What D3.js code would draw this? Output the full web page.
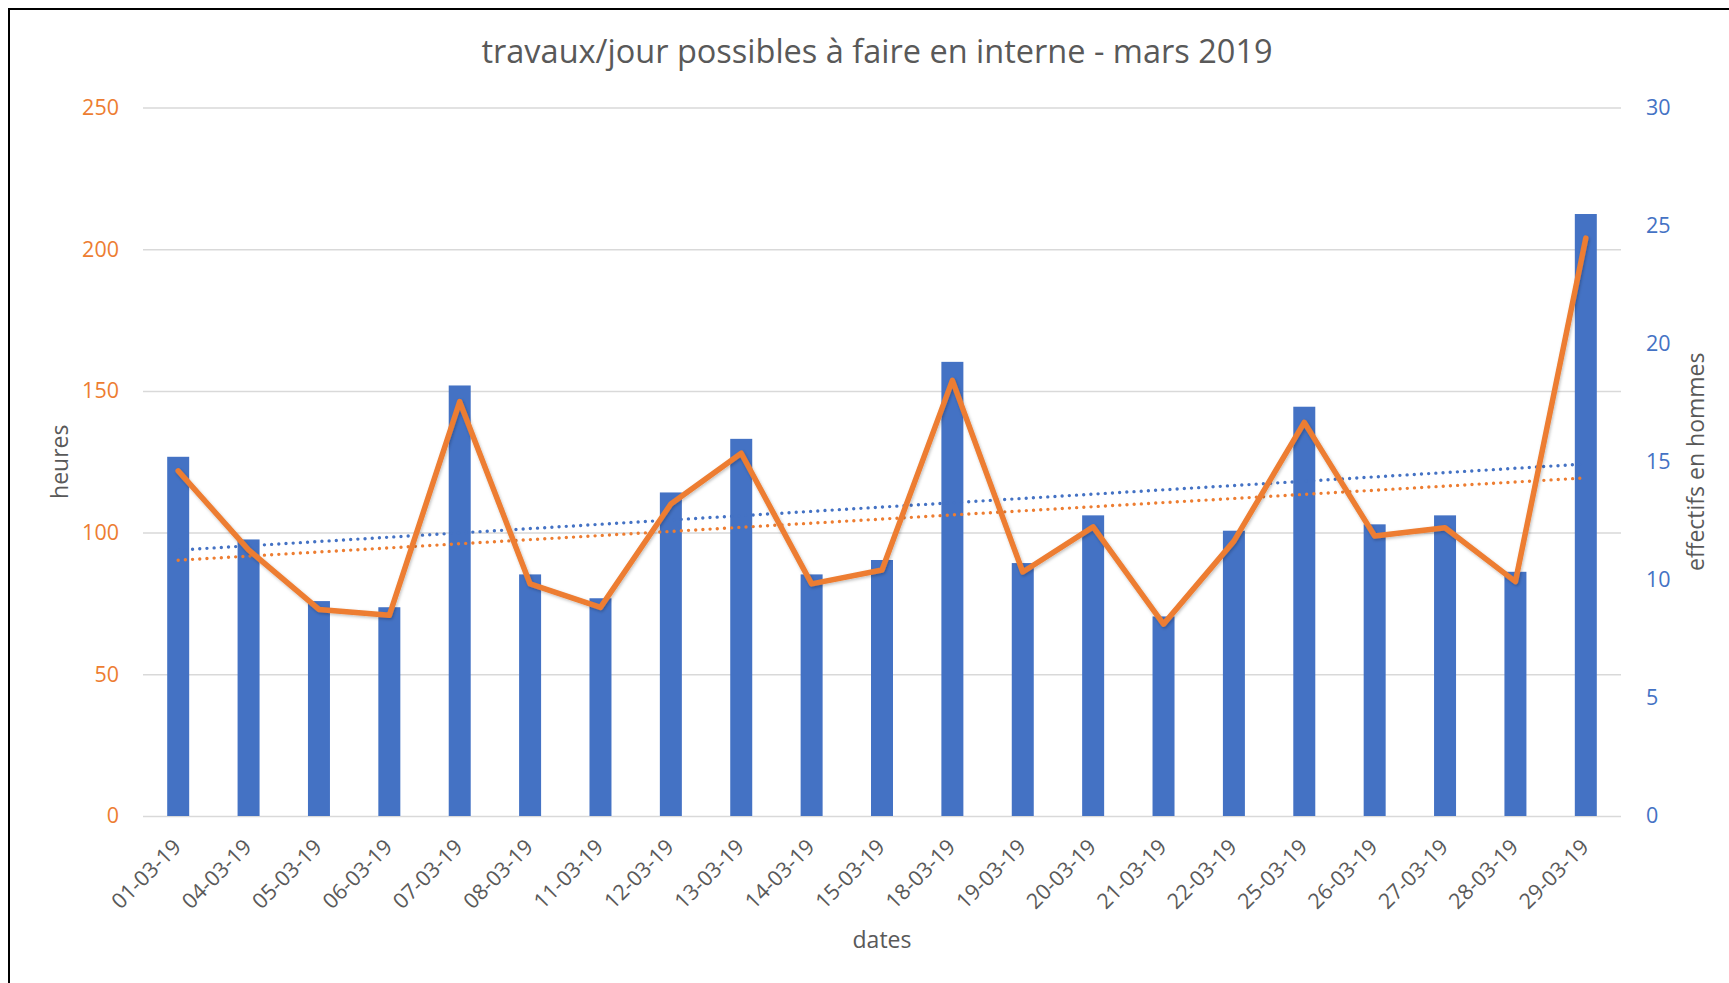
<!DOCTYPE html>
<html>
<head>
<meta charset="utf-8">
<script src="https://cdn.jsdelivr.net/npm/d3@7"></script>
<style>
  body { margin: 0; background: #fff; }
  svg { display: block; }
  text { font-family: "Open Sans", sans-serif; }
</style>
</head>
<body>
<div id="chart"></div>
<script>
// categories
const dates = ["01-03-19", "04-03-19", "05-03-19", "06-03-19", "07-03-19", "08-03-19", "11-03-19",
  "12-03-19", "13-03-19", "14-03-19", "15-03-19", "18-03-19", "19-03-19", "20-03-19", "21-03-19",
  "22-03-19", "25-03-19", "26-03-19", "27-03-19", "28-03-19", "29-03-19"];

// bars, right axis (effectifs en hommes)
const effectifs = [15.21, 11.71, 9.10, 8.84, 18.23, 10.23, 9.22, 13.70, 15.97, 10.23, 10.84,
  19.23, 10.71, 12.73, 8.45, 12.08, 17.33, 12.35, 12.73, 10.34, 25.49];

// line, left axis (heures)
const heures = [121.8, 93.9, 72.9, 70.8, 146.2, 81.9, 73.6, 110.1, 128.0, 81.9, 86.8,
  153.7, 86.1, 102.0, 67.7, 97.0, 138.9, 98.8, 101.7, 82.7, 203.9];

const heuresTicks = [0, 50, 100, 150, 200, 250];
const effectifsTicks = [0, 5, 10, 15, 20, 25, 30];

const W = 1729, H = 983;
const plot = { left: 143, right: 1621, top: 107.5, bottom: 816 };
const ORANGE = "#ED7D31", BLUE = "#4472C4", GREY = "#595959", GRID = "#D9D9D9";

const svg = d3.select("#chart").append("svg")
  .attr("width", W)
  .attr("height", H)
  .style("background", "#fff");

const defs = svg.append("defs");
const sh = defs.append("filter").attr("id", "lineShadow")
  .attr("x", "-5%").attr("y", "-5%").attr("width", "110%").attr("height", "110%");
sh.append("feDropShadow").attr("dx", 1).attr("dy", 1.5).attr("stdDeviation", 1.5)
  .attr("flood-color", "#000").attr("flood-opacity", 0.25);

// frame (only top and left edges are inside the picture)
svg.append("rect")
  .attr("x", 9).attr("y", 9)
  .attr("width", W + 40).attr("height", H + 40)
  .attr("fill", "none").attr("stroke", "#000").attr("stroke-width", 2);

const x = d3.scaleBand().domain(dates)
  .range([plot.left, plot.right])
  .paddingInner(0.6875)
  .paddingOuter(0.34375);

const yL = d3.scaleLinear().domain([0, 250]).range([plot.bottom, plot.top]);
const yR = d3.scaleLinear().domain([0, 30]).range([plot.bottom, plot.top]);

// gridlines
const grid = svg.append("g")
  .attr("transform", `translate(${plot.left},0)`)
  .call(d3.axisLeft(yL).tickValues(heuresTicks).tickSize(-(plot.right - plot.left)).tickFormat(""));
grid.select(".domain").remove();
grid.selectAll("line").attr("stroke", GRID).attr("stroke-width", 1.5);

// left axis labels
const axL = svg.append("g")
  .attr("transform", `translate(${plot.left},0)`)
  .call(d3.axisLeft(yL).tickValues(heuresTicks).tickSize(0).tickPadding(24));
axL.select(".domain").remove();
axL.selectAll("text").attr("fill", ORANGE).style("font-size", "21.5px")
  .style("font-family", "'Open Sans', sans-serif");

// right axis labels
const axR = svg.append("g")
  .attr("transform", `translate(${plot.right},0)`)
  .call(d3.axisRight(yR).tickValues(effectifsTicks).tickSize(0).tickPadding(25));
axR.select(".domain").remove();
axR.selectAll("text").attr("fill", BLUE).style("font-size", "21.5px")
  .style("font-family", "'Open Sans', sans-serif");

// x axis labels
const axX = svg.append("g")
  .attr("transform", `translate(0,${plot.bottom})`)
  .call(d3.axisBottom(x).tickSize(0));
axX.select(".domain").remove();
axX.selectAll("text")
  .attr("x", 0).attr("y", 0).attr("dy", "0.35em")
  .attr("transform", "translate(-1,27) rotate(-45)")
  .attr("text-anchor", "end")
  .attr("fill", GREY)
  .style("font-size", "21.5px")
  .style("font-family", "'Open Sans', sans-serif");

// bars
svg.append("g").selectAll("rect").data(dates).enter().append("rect")
  .attr("x", d => x(d))
  .attr("width", x.bandwidth())
  .attr("y", (d, i) => yR(effectifs[i]))
  .attr("height", (d, i) => plot.bottom - yR(effectifs[i]))
  .attr("fill", BLUE);

// linear trendlines (least squares, like the spreadsheet)
function linFit(vals) {
  const n = vals.length;
  const mx = d3.mean(vals, (v, i) => i);
  const my = d3.mean(vals);
  let sxy = 0, sxx = 0;
  vals.forEach((v, i) => { sxy += (i - mx) * (v - my); sxx += (i - mx) * (i - mx); });
  const b = sxy / sxx;
  return [my - b * mx, my + b * (n - 1 - mx)];
}
const cx = d => x(d) + x.bandwidth() / 2;
const trends = [
  { vals: effectifs, scale: yR, color: BLUE },
  { vals: heures, scale: yL, color: ORANGE }
];
trends.forEach(t => {
  const [a, b] = linFit(t.vals);
  svg.append("line")
    .attr("x1", cx(dates[0])).attr("y1", t.scale(a))
    .attr("x2", cx(dates[dates.length - 1])).attr("y2", t.scale(b))
    .attr("stroke", t.color).attr("stroke-width", 3.4)
    .attr("stroke-linecap", "round")
    .attr("stroke-dasharray", "0 7.2");
});

// line
svg.append("path")
  .datum(heures)
  .attr("d", d3.line().x((d, i) => cx(dates[i])).y(d => yL(d)))
  .attr("fill", "none")
  .attr("stroke", ORANGE)
  .attr("stroke-width", 5.5)
  .attr("stroke-linejoin", "round")
  .attr("stroke-linecap", "round")
  .attr("filter", "url(#lineShadow)");

// titles
svg.append("text")
  .attr("x", (plot.left + plot.right) / 2 - 5).attr("y", 63)
  .attr("text-anchor", "middle")
  .attr("fill", GREY)
  .style("font-size", "32.5px")
  .text("travaux/jour possibles à faire en interne - mars 2019");

svg.append("text")
  .attr("transform", `translate(68,${(plot.top + plot.bottom) / 2}) rotate(-90)`)
  .attr("text-anchor", "middle")
  .attr("fill", GREY)
  .style("font-size", "23px")
  .text("heures");

svg.append("text")
  .attr("transform", `translate(1704,${(plot.top + plot.bottom) / 2}) rotate(-90)`)
  .attr("text-anchor", "middle")
  .attr("fill", GREY)
  .style("font-size", "23px")
  .text("effectifs en hommes");

svg.append("text")
  .attr("x", (plot.left + plot.right) / 2).attr("y", 948)
  .attr("text-anchor", "middle")
  .attr("fill", GREY)
  .style("font-size", "23px")
  .text("dates");
</script>
</body>
</html>
